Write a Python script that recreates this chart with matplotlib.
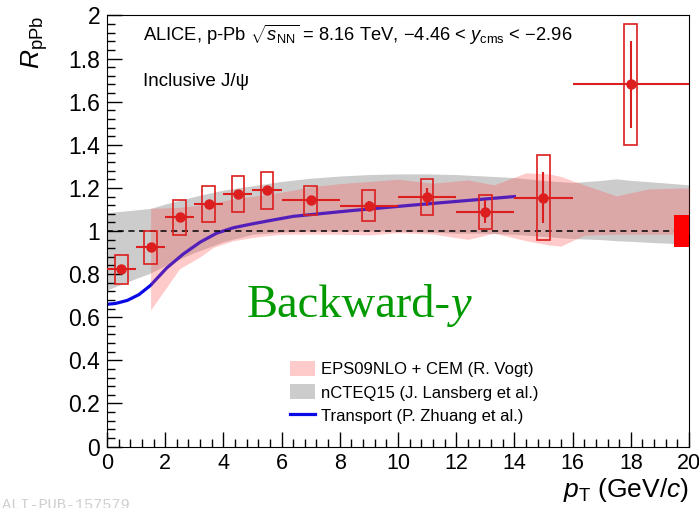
import matplotlib.pyplot as plt
from matplotlib.patches import Rectangle, Patch
from matplotlib.lines import Line2D
from matplotlib.ticker import MultipleLocator
import numpy as np

plt.rcParams['font.family'] = ['Liberation Sans', 'DejaVu Sans']
plt.rcParams['mathtext.fontset'] = 'custom'
plt.rcParams['mathtext.rm'] = 'Liberation Sans'
plt.rcParams['mathtext.it'] = 'Liberation Sans:italic'
plt.rcParams['mathtext.bf'] = 'Liberation Sans:bold'

# ALICE data, backward rapidity
pt = [0.5, 1.5, 2.5, 3.5, 4.5, 5.5, 7, 9, 11, 13, 15, 18]
pt_lo = [0, 1, 2, 3, 4, 5, 6, 8, 10, 12, 14, 16]
pt_hi = [1, 2, 3, 4, 5, 6, 8, 10, 12, 14, 16, 20]
rppb = [0.822, 0.924, 1.064, 1.126, 1.172, 1.188, 1.143, 1.118, 1.158, 1.090, 1.155, 1.680]
stat = [0.015, 0.015, 0.015, 0.015, 0.015, 0.015, 0.015, 0.02, 0.04, 0.054, 0.12, 0.2]
syst = [0.068, 0.077, 0.081, 0.085, 0.085, 0.085, 0.068, 0.073, 0.082, 0.079, 0.198, 0.28]
glob_unc = 0.073

# nCTEQ15 band
ncteq_x = [0, 1, 1.5, 2, 3, 4, 5, 6, 7, 8, 9, 10, 11, 12, 13, 14, 15, 16, 17, 17.5, 18, 19, 20]
ncteq_hi = [1.085, 1.098, 1.105, 1.125, 1.16, 1.19, 1.21, 1.23, 1.245, 1.255, 1.262, 1.265, 1.265,
            1.262, 1.255, 1.248, 1.235, 1.225, 1.235, 1.242, 1.235, 1.225, 1.214]
ncteq_lo = [0.726, 0.78, 0.805, 0.84, 0.90, 0.95, 0.985, 0.995, 1.0, 1.0, 1.0, 1.0, 0.995,
            0.99, 0.99, 0.985, 0.975, 0.965, 0.96, 0.955, 0.952, 0.945, 0.94]

# EPS09NLO + CEM band
eps_x = [1.5, 2.5, 3.2, 3.65, 4.34, 5.26, 6, 7, 8, 9, 10, 11.2, 12.4, 13.3, 14.4, 15.2, 15.6,
         16.4, 17.5, 18.6, 19.7, 20]
eps_hi = [1.105, 1.11, 1.12, 1.13, 1.15, 1.165, 1.18, 1.205, 1.22, 1.23, 1.24, 1.222, 1.237,
          1.214, 1.27, 1.265, 1.253, 1.214, 1.163, 1.195, 1.199, 1.199]
eps_lo = [0.633, 0.826, 0.88, 0.924, 0.955, 0.975, 0.985, 0.986, 0.985, 0.982, 0.992, 0.986,
          0.961, 0.99, 0.955, 0.935, 0.930, 0.981, 0.985, 0.985, 0.985, 0.985]

# Transport model
tr_x = [0, 0.3, 0.7, 1.1, 1.5, 2.05, 2.62, 3.2, 3.77, 4.34, 4.91, 5.5, 6.4, 8.35, 10.4, 14]
tr_y = [0.660, 0.664, 0.678, 0.705, 0.748, 0.828, 0.893, 0.948, 0.990, 1.015, 1.031, 1.046,
        1.068, 1.094, 1.119, 1.160]

red = '#dc1e1e'
pink_c = (1.0, 0.32, 0.32)
pink_a = 0.3
gray_c = '#cccccc'
blue = '#0a0ae6'

fig = plt.figure(figsize=(6.99, 5.08), dpi=100)
ax = fig.add_axes([0.153, 0.121, 0.8327, 0.8485])

ax.fill_between(ncteq_x, ncteq_lo, ncteq_hi, color=gray_c, lw=0, zorder=1)
ax.plot(tr_x, tr_y, color=blue, lw=2.3, zorder=2, solid_joinstyle='round')
ax.fill_between(eps_x, eps_lo, eps_hi, color=pink_c, alpha=pink_a, lw=0, zorder=3)
ax.axhline(1.0, color='black', lw=1.1, ls=(0, (4, 3)), zorder=4)

bw = 0.22
for x, y, s in zip(pt, rppb, syst):
    ax.add_patch(Rectangle((x - bw, y - s), 2 * bw, 2 * s, fill=False, ec=red, lw=1.2, zorder=5))
xerr = [np.subtract(pt, pt_lo), np.subtract(pt_hi, pt)]
ax.errorbar(pt, rppb, xerr=xerr, yerr=stat, fmt='o', color=red, ms=6.5, lw=1.5,
            capsize=0, zorder=6, clip_on=False)
ax.add_patch(Rectangle((19.5, 1 - glob_unc), 0.5, 2 * glob_unc, color='#ff0000', lw=0, zorder=7))

ax.set_xlim(0, 20)
ax.set_ylim(0, 2)
ax.xaxis.set_major_locator(MultipleLocator(2))
ax.xaxis.set_minor_locator(MultipleLocator(0.4))
ax.yaxis.set_minor_locator(MultipleLocator(0.04))
ax.set_yticks(np.arange(0, 2.01, 0.2))
ax.set_yticklabels(['0', '0.2', '0.4', '0.6', '0.8', '1', '1.2', '1.4', '1.6', '1.8', '2'])
ax.tick_params(which='both', direction='in', top=False, right=False)
ax.tick_params(which='major', length=11, width=1)
ax.tick_params(which='minor', length=5.5, width=1)
ax.tick_params(axis='y', pad=5, labelsize=16.5)
ax.tick_params(axis='x', pad=5, labelsize=15.5)

ax.text(1.0, -0.1, r'$p_{\rm T}$ (GeV/$c$)', transform=ax.transAxes, ha='right', va='center',
        fontsize=19)
ax.text(-0.125, 1.0, r'$R_{\rm pPb}$', transform=ax.transAxes, rotation=90, ha='center', va='top',
        fontsize=19)

ax.text(0.062, 0.9415, r'ALICE, p-Pb $\sqrt{s_{\rm NN}}$ = 8.16 TeV, −4.46 < $y_{\rm cms}$ < −2.96',
        transform=ax.transAxes, fontsize=13.2, va='baseline')
ax.text(0.062, 0.8364, 'Inclusive J/ψ', transform=ax.transAxes, fontsize=13.5, va='baseline')

t = ax.text(4.81, 0.602, 'Backward-', fontsize=33.5, color='#009a00', family='Liberation Serif',
            va='baseline')
ax.annotate('y', xy=(1, 0), xycoords=t, fontsize=33.5, color='#009a00', family='Liberation Serif',
            style='italic', va='bottom', ha='left')

handles = [Patch(facecolor=pink_c, alpha=pink_a, lw=0),
           Patch(facecolor=gray_c, lw=0),
           Line2D([], [], color=blue, lw=2.3)]
labels = ['EPS09NLO + CEM (R. Vogt)', 'nCTEQ15 (J. Lansberg et al.)', 'Transport (P. Zhuang et al.)']
ax.legend(handles, labels, loc='upper left', bbox_to_anchor=(0.3144, 0.198), frameon=False,
          fontsize=12, handlelength=1.5, handleheight=1.0, labelspacing=0.42,
          handletextpad=0.34, borderpad=0, borderaxespad=0)

fig.text(0.003, 10 / 508, 'ALI-PUB-157579', family='Liberation Mono', color='#cfcfcf',
         fontsize=11, va='top')

fig.savefig('out.png', dpi=100)
